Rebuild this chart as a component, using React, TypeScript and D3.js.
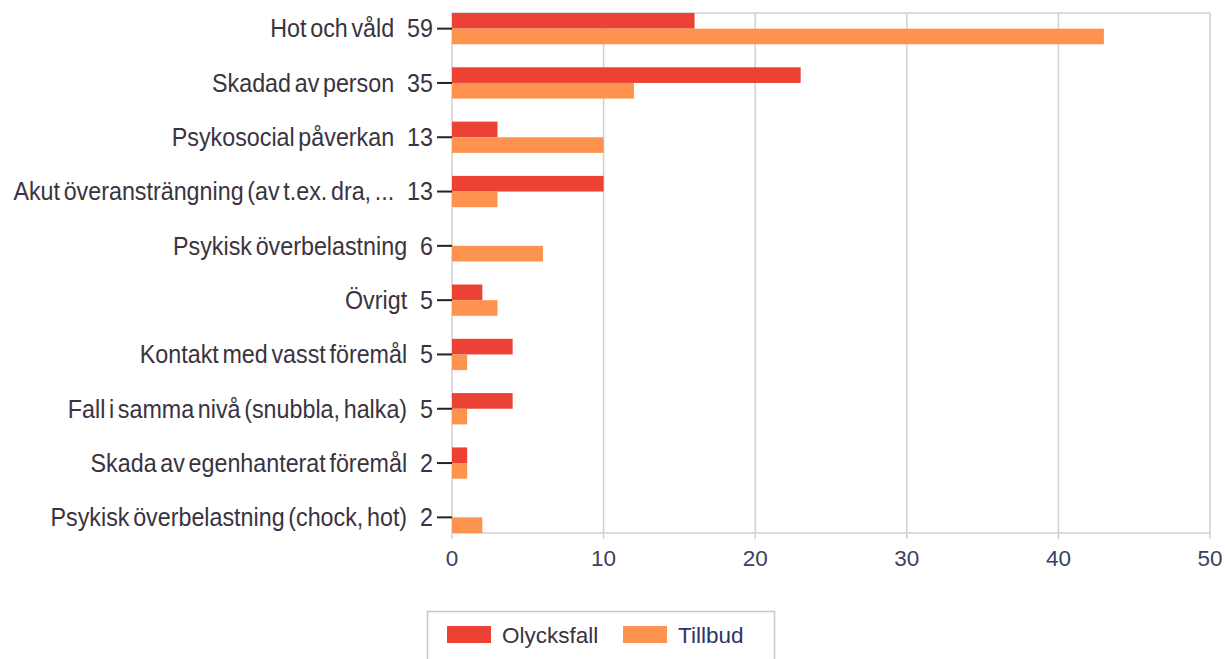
import React from "react";
import * as d3 from "d3";

const categories = [
  "Hot och våld",
  "Skadad av person",
  "Psykosocial påverkan",
  "Akut överansträngning (av t.ex. dra, ...",
  "Psykisk överbelastning",
  "Övrigt",
  "Kontakt med vasst föremål",
  "Fall i samma nivå (snubbla, halka)",
  "Skada av egenhanterat föremål",
  "Psykisk överbelastning (chock, hot)",
];
const olycksfall = [16, 23, 3, 10, 0, 2, 4, 4, 1, 0];
const tillbud = [43, 12, 10, 3, 6, 3, 1, 1, 1, 2];
const seriesNames = ["Olycksfall", "Tillbud"];
const xTicks = [0, 10, 20, 30, 40, 50];

const COLORS = ["#ec4236", "#fe9350"];
const FONT = "'Liberation Sans', Arial, sans-serif";
const TEXT = "#3a3340";

export default function App() {
  const W = 1225;
  const H = 659;
  const left = 452;
  const right = 1210;
  const top = 13;
  const bottom = 533;

  const x = d3.scaleLinear().domain([0, 50]).range([left, right]);
  const y = d3
    .scaleBand<string>()
    .domain(categories)
    .range([top, bottom])
    .paddingInner(0.424)
    .paddingOuter(0);
  const sub = d3
    .scaleBand<string>()
    .domain(seriesNames)
    .range([0, y.bandwidth()]);

  const series = [olycksfall, tillbud];
  const totals = categories.map((_, i) => olycksfall[i] + tillbud[i]);

  return (
    <svg
      width={W}
      height={H}
      style={{ position: "absolute", left: 0, top: 0, background: "#fff" }}
      fontFamily={FONT}
    >
      {xTicks.map((t) => (
        <g key={t}>
          <line x1={x(t)} x2={x(t)} y1={top} y2={bottom + 6} stroke="#cfcfd4" strokeWidth={1.5} />
          <text
            x={x(t)}
            y={bottom + 25}
            dy="0.35em"
            textAnchor="middle"
            fontSize={22.5}
            fill="#3d4060"
          >
            {t}
          </text>
        </g>
      ))}
      <line x1={left} x2={right} y1={top} y2={top} stroke="#cfcfd4" strokeWidth={1.5} />
      <line x1={left} x2={right} y1={bottom} y2={bottom} stroke="#cfcfd4" strokeWidth={1.5} />

      {categories.map((c, i) => {
        const cy = (y(c) as number) + y.bandwidth() / 2;
        return (
          <g key={c}>
            {series.map((s, k) =>
              s[i] > 0 ? (
                <rect
                  key={k}
                  x={x(0)}
                  y={(y(c) as number) + (sub(seriesNames[k]) as number)}
                  width={x(s[i]) - x(0)}
                  height={sub.bandwidth()}
                  fill={COLORS[k]}
                />
              ) : null
            )}
            <line x1={437} x2={left} y1={cy} y2={cy} stroke="#222" strokeWidth={2} />
            <g transform={`translate(433,${cy}) scale(1,1.08)`}>
              <text x={0} y={0} dy="0.35em" textAnchor="end" fontSize={23.3} fill={TEXT}>
                <tspan wordSpacing={-2.8}>{c}</tspan>
                <tspan>{"\u00a0\u00a0" + totals[i]}</tspan>
              </text>
            </g>
          </g>
        );
      })}

      <rect x={427.5} y={611.5} width={347} height={60} fill="#fff" stroke="#c8c8cc" strokeWidth={1.5} />
      {seriesNames.map((n, k) => {
        const lx = [447, 623][k];
        return (
          <g key={n}>
            <rect x={lx} y={626} width={44} height={17} fill={COLORS[k]} />
            <text x={lx + 55} y={635} dy="0.35em" fontSize={22.5} fill={k === 0 ? TEXT : "#2e3566"}>
              {n}
            </text>
          </g>
        );
      })}
    </svg>
  );
}
